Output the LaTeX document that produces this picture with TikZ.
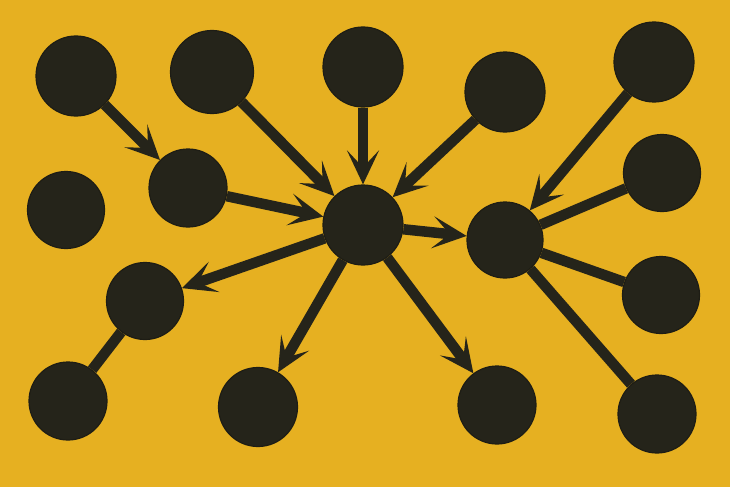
\documentclass[tikz,border=0pt]{standalone}
\usetikzlibrary{arrows.meta}
\definecolor{bg}{HTML}{E6B021}
\definecolor{ink}{HTML}{25241A}
\begin{document}
\begin{tikzpicture}[x=1pt,y=-1pt,
  dot/.style={circle,fill=ink,draw=ink!80!black,line width=1.2pt,inner sep=0pt,minimum size=#1},
  dot/.default=78pt,
  link/.style={draw=ink,line width=10.5pt},
  arr/.style={link,-{Stealth[length=34pt,width=32pt,inset=17pt]}}]
\fill[bg] (0,0) rectangle (730,487);
\useasboundingbox (0,0) rectangle (730,487);
\node[dot=80pt] (A) at (76,76) {};
\node[dot=83pt] (B) at (212,72) {};
\node[dot=80pt] (C) at (363,67) {};
\node[dot=80pt] (D) at (505,92) {};
\node[dot=80pt] (E) at (654,62) {};
\node[dot=78pt] (F) at (188,188) {};
\node[dot=77pt] (G) at (66,210) {};
\node[dot=80pt] (H) at (363,225) {};
\node[dot=76pt] (I) at (505,240) {};
\node[dot=77pt] (J) at (662,173) {};
\node[dot=77pt] (K) at (145,301) {};
\node[dot=77pt] (L) at (661,295) {};
\node[dot=78pt] (M) at (68,401) {};
\node[dot=79pt] (N) at (258,407) {};
\node[dot=78pt] (O) at (497,405) {};
\node[dot=78pt] (P) at (657,414) {};
\draw[arr] (A) -- (F);
\draw[arr] (B) -- (H);
\draw[arr] (C) -- (H);
\draw[arr] (D) -- (H);
\draw[arr] (F) -- (H);
\draw[arr] (E) -- (I);
\draw[arr] (H) -- (I);
\draw[arr] (H) -- (K);
\draw[arr] (H) -- (N);
\draw[arr] (H) -- (O);
\draw[link] (J) -- (I);
\draw[link] (L) -- (I);
\draw[link] (P) -- (I);
\draw[link] (M) -- (K);
\end{tikzpicture}
\end{document}
